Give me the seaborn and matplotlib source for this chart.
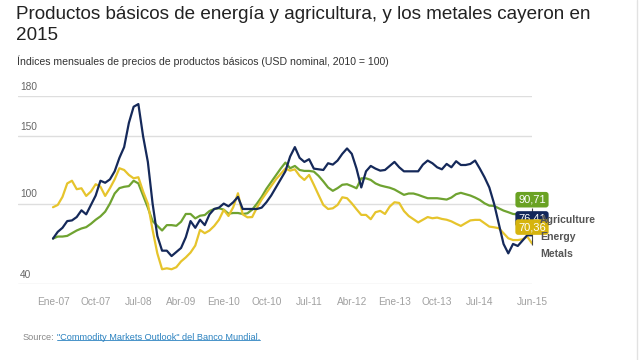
import numpy as np
import pandas as pd
import matplotlib.pyplot as plt
import matplotlib.transforms as mtransforms
from matplotlib.lines import Line2D
import seaborn as sns

# Monthly commodity price indices, Jan 2007 - Jun 2015 (2010 = 100)
energy = [
    74, 79, 82, 87, 87.5, 90, 95, 92, 99, 106, 117, 115.5,
    118, 124, 134, 142, 160, 172, 174, 150, 131, 100, 76, 65,
    65, 61, 64, 67, 75, 87, 82, 88, 84, 92, 96, 97,
    100, 98, 101, 105, 96, 96, 96, 96, 97, 101, 106, 112,
    118, 124, 135, 142, 134, 131, 133, 126, 125.5, 125, 130, 129,
    132, 137, 141, 137, 126, 112, 124, 128, 126, 124.5, 125, 128,
    131, 127, 124, 124, 124, 124, 129, 132, 130, 127, 125.5, 129.5,
    127, 131.5, 128.7, 128.7, 129.5, 132, 126, 119.5, 112, 100, 85, 70,
    63, 70, 68.5, 72.5, 76.5, 76.41,
]
agriculture = [
    74, 75.5, 75.5, 76, 78, 80, 81.5, 82.5, 85, 88, 90.5, 94,
    100, 107.5, 111.5, 112.5, 113, 117, 115, 106, 97, 87, 83.5, 80,
    84, 84, 83.5, 86.5, 92.3, 92.3, 89, 91, 91.5, 94.5, 96, 96.5,
    95.5, 92.5, 93, 93, 92.3, 92.8, 95.5, 100, 105, 111, 116, 121,
    126, 130.5, 126.3, 128, 125, 124.3, 124.3, 123.8, 120.6, 116.5, 112, 109.5,
    111.5, 114, 114.4, 113, 111.4, 118.8, 118.8, 117.6, 115, 113.5, 112.6, 111.8,
    110.5, 108.5, 106.5, 107.5, 107.5, 106.5, 105.2, 104, 104, 104, 103.5, 103,
    104.5, 107, 108, 107, 106, 104.5, 102.7, 100.2, 98.5, 98.3, 96.5, 94.8,
    93.6, 92.3, 92, 91.5, 91, 90.71,
]
metals = [
    97.3, 99, 105, 115, 117, 110.7, 111.4, 105.7, 109, 114.4, 112.6, 105.7,
    111.4, 118, 126.3, 125, 121.3, 118.8, 119.6, 109, 100, 80.4, 63, 51.2,
    51.9, 51.2, 52.7, 57, 60, 63.6, 68.8, 80.4, 78, 80, 83.4, 88,
    95.3, 90.8, 97.3, 107.7, 92, 89.8, 90, 97, 103, 108, 113, 118,
    122, 126, 124.5, 125.5, 120.6, 117.6, 121.3, 114, 106.4, 99, 96, 96.5,
    99, 104.7, 104, 100.2, 95.8, 91.6, 91.6, 88.4, 93.6, 94.6, 92.3, 97.8,
    101, 100.5, 94.5, 90.8, 88.4, 86, 88, 90, 89.1, 89.6, 88.6, 88,
    86.8, 85, 83.4, 85.5, 87.5, 87.9, 87.9, 85.4, 82.9, 82.4, 81.7, 78,
    74.2, 72.9, 72.9, 73.4, 75.5, 70.36,
]

series_names = ["Agriculture", "Metals", "Energy"]
legend_order = ["Agriculture", "Energy", "Metals"]
colors = {"Agriculture": "#6fa331", "Metals": "#e6c42c", "Energy": "#15295a"}
box_colors = {"Agriculture": "#6aa223", "Metals": "#d6b40e", "Energy": "#13275a"}

tick_months = [0, 9, 18, 27, 36, 45, 54, 63, 72, 81, 90, 101]
tick_labels = ["Ene-07", "Oct-07", "Jul-08", "Abr-09", "Ene-10", "Oct-10",
               "Jul-11", "Abr-12", "Ene-13", "Oct-13", "Jul-14", "Jun-15"]
y_grid = [40, 100, 150, 180]

title = "Productos básicos de energía y agricultura, y los metales cayeron en\n2015"
subtitle = "Índices mensuales de precios de productos básicos (USD nominal, 2010 = 100)"

# Long-form table for seaborn
month = np.arange(len(energy))
df = pd.concat([
    pd.DataFrame({"month": month, "value": agriculture, "series": "Agriculture"}),
    pd.DataFrame({"month": month, "value": metals, "series": "Metals"}),
    pd.DataFrame({"month": month, "value": energy, "series": "Energy"}),
])

sns.set_theme(style="white")
plt.rcParams["font.family"] = ["Liberation Sans", "DejaVu Sans"]

fig = plt.figure(figsize=(6.4, 3.6), dpi=100)
ax = fig.add_axes([18 / 640, 75.7 / 360, 514 / 640, 188.3 / 360])

sns.lineplot(data=df, x="month", y="value", hue="series", hue_order=series_names,
             palette=colors, linewidth=1.6, legend=False, ax=ax)

ax.set_xlim(-7.38, 101)
ax.set_ylim(40, 180)
for v in y_grid:
    ax.axhline(v, color="#dedede", linewidth=1, zorder=0)
for s in ax.spines.values():
    s.set_visible(False)
ax.set_xlabel("")
ax.set_ylabel("")
ax.set_yticks([])
ax.set_xticks(tick_months)
ax.set_xticklabels(tick_labels, fontsize=7.3, color="#a0a0a0")
ax.tick_params(axis="x", length=0, pad=9)

# y labels sit just above their grid lines
trans = mtransforms.blended_transform_factory(ax.transAxes, ax.transData)
for v in y_grid:
    ax.annotate(str(v), xy=(0.004, v), xycoords=trans, xytext=(0, 3),
                textcoords="offset points", va="bottom", ha="left",
                fontsize=7.3, color="#666666")

# tooltip crosshair and value boxes at the last month
last = {"Agriculture": agriculture[-1], "Energy": energy[-1], "Metals": metals[-1]}
ax.vlines(month[-1], 69, 97, color="#444444", linewidth=0.8, zorder=4, clip_on=False)

# series names at the right (partly hidden behind the boxes)
for k, name in enumerate(legend_order):
    fig.text(540 / 640, 1 - (220 + 17 * k) / 360, name, fontsize=7.6,
             fontweight="bold", color="#555555", va="center", ha="left", zorder=3)

for name in ["Energy", "Metals", "Agriculture"]:
    ax.annotate(f"{last[name]:.2f}".replace(".", ","), xy=(month[-1], last[name]),
                xytext=(0, 11.8), textcoords="offset points", ha="center", va="center",
                fontsize=8, color="white", annotation_clip=False, zorder=6,
                bbox=dict(boxstyle="round,pad=0.25,rounding_size=0.25",
                          fc=box_colors[name], ec="none"))

# titles
fig.text(16 / 640, 1 - 6 / 360, title, fontsize=13.6, color="#222222",
         va="top", ha="left", linespacing=1.33)
fig.text(17 / 640, 1 - 61 / 360, subtitle, fontsize=7.6, color="#333333",
         va="center", ha="left")

# source line with underlined link
src = fig.text(22.7 / 640, 1 - 337 / 360, "Source:", fontsize=6.6, color="#888888",
               va="center", ha="left")
link = fig.text(57 / 640, 1 - 337 / 360, "\"Commodity Markets Outlook\" del Banco Mundial.",
                fontsize=6.6, color="#2b82c0", va="center", ha="left")
fig.canvas.draw()
bb = link.get_window_extent().transformed(fig.transFigure.inverted())
fig.add_artist(Line2D([bb.x0, bb.x1], [bb.y0 + 0.004, bb.y0 + 0.004],
                      transform=fig.transFigure, color="#2b82c0", linewidth=0.6))

# light frame line at the right edge
fig.add_artist(Line2D([637 / 640, 637 / 640], [0, 1], transform=fig.transFigure,
                      color="#e2e2e2", linewidth=1))

fig.savefig("out.png", dpi=100)
